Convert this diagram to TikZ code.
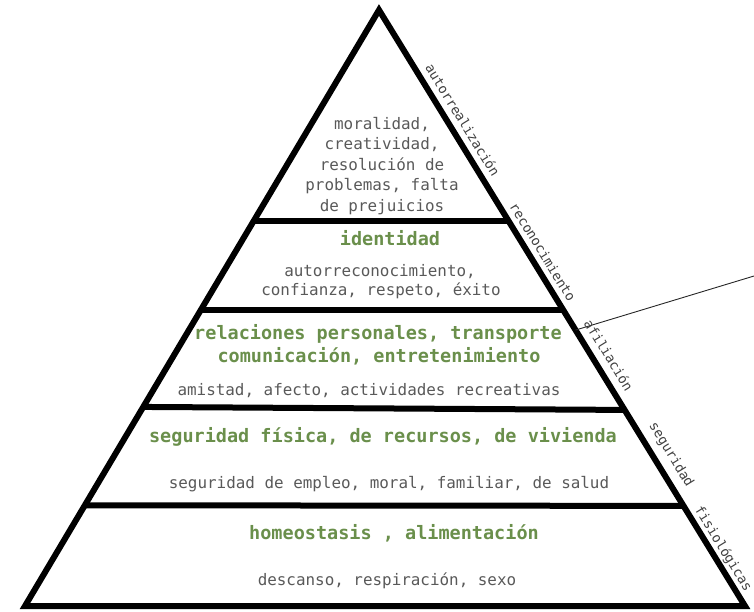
\documentclass[tikz,border=0pt]{standalone}
\usepackage{fontspec}
\newfontfamily\pmono{DejaVu Sans Mono}
\usetikzlibrary{calc}
\definecolor{lvlgreen}{HTML}{6A8F4B}
\definecolor{lvlgray}{HTML}{595959}
\definecolor{sidegray}{HTML}{404040}
\tikzset{
  edge/.style={line width=6pt, line join=miter},
  divider/.style={line width=6pt},
  title/.style={anchor=base, inner sep=0pt, text=lvlgreen, font=\pmono\bfseries\fontsize{18.5}{22}\selectfont},
  desc/.style={anchor=base, inner sep=0pt, text=lvlgray, font=\pmono\fontsize{15.9}{20}\selectfont},
  side/.style={inner sep=0pt, text=sidegray, rotate=-58.45, font=\pmono\fontsize{13.4}{16}\selectfont},
}
\begin{document}
\begin{tikzpicture}[x=1pt,y=-1pt]
\useasboundingbox (0,0) rectangle (754,611);
\coordinate (apex) at (379,10);
\coordinate (bl) at (25,606);
\coordinate (br) at (745,606);
\draw[edge] (bl) -- (apex) -- (br) -- cycle;
% dividers
\coordinate (d1l) at ($(apex)!0.354!(bl)$); \coordinate (d1r) at ($(apex)!0.354!(br)$);
\coordinate (d2l) at ($(apex)!0.503!(bl)$); \coordinate (d2r) at ($(apex)!0.503!(br)$);
\coordinate (d3l) at ($(apex)!0.666!(bl)$); \coordinate (d3r) at ($(apex)!0.671!(br)$);
\coordinate (d4l) at ($(apex)!0.831!(bl)$); \coordinate (d4r) at ($(apex)!0.832!(br)$);
\draw[divider] (d1l) -- (d1r);
\draw[divider] (d2l) -- (d2r);
\draw[divider] (d3l) -- (d3r);
\draw[divider] (d4l) -- (d4r);
% thin line
\coordinate (tl1) at ($(apex)!0.537!(br)$);
\coordinate (tl2) at (754,276);
\draw[line width=0.9pt, black!85] (tl1) -- (tl2);
% top level
\node[desc] (t1) at (382,129) {moralidad,};
\node[desc] (t2) at (382,149) {creatividad,};
\node[desc] (t3) at (382,170) {resolución de};
\node[desc] (t4) at (382,190) {problemas, falta};
\node[desc] (t5) at (382,211) {de prejuicios};
% identidad
\node[title] (i1) at (390,245) {identidad};
\node[desc] (i2) at (380,276) {autorreconocimiento,};
\node[desc] (i3) at (381,295) {confianza, respeto, éxito};
% afiliacion
\node[title] (a1) at (378,339) {relaciones personales, transporte};
\node[title] (a2) at (379,362) {comunicación, entretenimiento};
\node[desc] (a3) at (369,395) {amistad, afecto, actividades recreativas};
% seguridad
\node[title] (s1) at (383,442) {seguridad física, de recursos, de vivienda};
\node[desc] (s2) at (389,488) {seguridad de empleo, moral, familiar, de salud};
% fisiologicas
\node[title] (f1) at (394,539) {homeostasis , alimentación};
\node[desc] (f2) at (387,585) {descanso, respiración, sexo};
% side labels
\node[side] (l1) at (463,120) {autorrealización};
\node[side] (l2) at (543,252) {reconocimiento};
\node[side] (l3) at (609,355) {afiliación};
\node[side] (l4) at (671,455) {seguridad};
\node[side] (l5) at (723,549) {fisiológicas};
\end{tikzpicture}
\end{document}
